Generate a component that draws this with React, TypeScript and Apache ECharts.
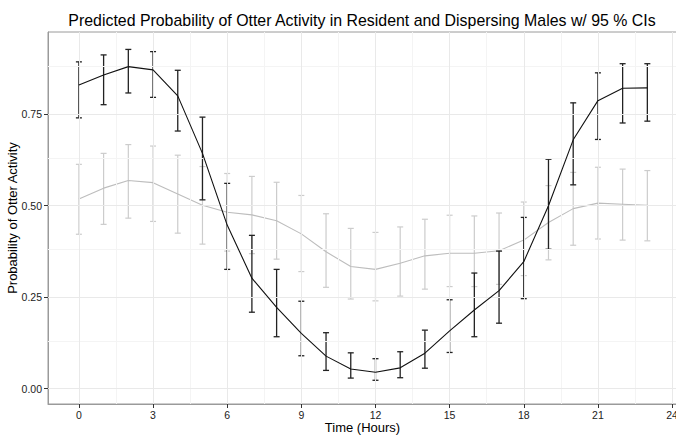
import React, { useEffect, useRef } from "react";
import * as echarts from "echarts";

const hours = [0, 1, 2, 3, 4, 5, 6, 7, 8, 9, 10, 11, 12, 13, 14, 15, 16, 17, 18, 19, 20, 21, 22, 23];

const residentFit = [0.830, 0.857, 0.880, 0.871, 0.800, 0.643, 0.447, 0.302, 0.222, 0.151, 0.089, 0.054, 0.045, 0.057, 0.097, 0.158, 0.215, 0.268, 0.347, 0.500, 0.680, 0.787, 0.821, 0.822];
const residentLow = [0.740, 0.776, 0.808, 0.796, 0.704, 0.516, 0.326, 0.209, 0.142, 0.090, 0.050, 0.029, 0.023, 0.030, 0.056, 0.099, 0.142, 0.179, 0.246, 0.381, 0.557, 0.681, 0.726, 0.731];
const residentHigh = [0.893, 0.912, 0.927, 0.921, 0.870, 0.742, 0.561, 0.419, 0.326, 0.239, 0.153, 0.098, 0.082, 0.101, 0.160, 0.243, 0.316, 0.376, 0.468, 0.627, 0.781, 0.863, 0.888, 0.888];

const dispersingFit = [0.518, 0.548, 0.569, 0.563, 0.532, 0.501, 0.482, 0.475, 0.459, 0.423, 0.374, 0.334, 0.326, 0.343, 0.363, 0.370, 0.370, 0.377, 0.406, 0.454, 0.492, 0.507, 0.504, 0.501];
const dispersingLow = [0.422, 0.449, 0.466, 0.457, 0.425, 0.395, 0.376, 0.369, 0.354, 0.320, 0.277, 0.245, 0.240, 0.253, 0.272, 0.279, 0.279, 0.285, 0.309, 0.352, 0.392, 0.409, 0.406, 0.404];
const dispersingHigh = [0.613, 0.643, 0.667, 0.663, 0.638, 0.607, 0.588, 0.580, 0.564, 0.528, 0.478, 0.438, 0.427, 0.442, 0.463, 0.474, 0.472, 0.480, 0.510, 0.555, 0.591, 0.605, 0.600, 0.596];

const xTicks = [0, 3, 6, 9, 12, 15, 18, 21, 24];
const xMinor = [1.5, 4.5, 7.5, 10.5, 13.5, 16.5, 19.5, 22.5];
const yTicks = [0, 0.25, 0.5, 0.75];
const yMinor = [0.125, 0.375, 0.625, 0.875];

const TITLE = "Predicted Probability of Otter Activity in Resident and Dispersing Males w/ 95 % CIs";

function errorBarSeries(name: string, low: number[], high: number[], color: string, width: number, z: number) {
  return {
    name,
    type: "custom",
    z,
    data: hours.map((h, i) => [h, low[i], high[i]]),
    encode: { x: 0, y: [1, 2] },
    renderItem: (params: any, api: any) => {
      const x = api.value(0);
      const pLo = api.coord([x, api.value(1)]);
      const pHi = api.coord([x, api.value(2)]);
      const w = 3;
      const style = { stroke: color, lineWidth: width, fill: null };
      return {
        type: "group",
        children: [
          { type: "line", shape: { x1: pHi[0], y1: pHi[1], x2: pLo[0], y2: pLo[1] }, style },
          { type: "line", shape: { x1: pHi[0] - w, y1: pHi[1], x2: pHi[0] + w, y2: pHi[1] }, style },
          { type: "line", shape: { x1: pLo[0] - w, y1: pLo[1], x2: pLo[0] + w, y2: pLo[1] }, style },
        ],
      };
    },
  };
}

export default function App() {
  const ref = useRef<HTMLDivElement>(null);
  useEffect(() => {
    if (!ref.current) return;
    const chart = echarts.init(ref.current, null, { renderer: "svg" });
    const font = "'Liberation Sans', Arial, sans-serif";
    const gridLine = (color: string, items: any[]) => ({
      silent: true,
      symbol: ["none", "none"],
      label: { show: false },
      lineStyle: { color, width: 1, type: "solid" },
      emphasis: { disabled: true },
      data: items,
    });
    chart.setOption({
      animation: false,
      backgroundColor: "#ffffff",
      textStyle: { fontFamily: font },
      title: {
        text: TITLE,
        left: 362,
        textAlign: "center",
        top: 12,
        padding: 0,
        textStyle: { fontSize: 15.9, fontWeight: "normal", color: "#000", fontFamily: font },
      },
      grid: {
        left: 48,
        top: 32,
        right: -1,
        bottom: 33,
        show: true,
        borderColor: "#9a9a9a",
        borderWidth: 1,
        containLabel: false,
        outerBoundsMode: "none",
      },
      xAxis: {
        type: "value",
        min: -1.25,
        max: 24.2,
        name: "Time (Hours)",
        nameLocation: "middle",
        nameGap: 17,
        nameMoveOverlap: false,
        nameTextStyle: { fontSize: 13, color: "#000", fontFamily: font },
        axisLine: { show: true, onZero: false, lineStyle: { color: "#9a9a9a", width: 1 } },
        axisTick: { show: true, length: 4, customValues: xTicks, lineStyle: { color: "#333" } },
        axisLabel: { customValues: xTicks, fontSize: 10.5, color: "#222", margin: 5, fontFamily: font, showMinLabel: true, showMaxLabel: true },
        splitLine: { show: false },
      },
      yAxis: {
        type: "value",
        min: -0.0418,
        max: 0.9746,
        name: "Probability of Otter Activity",
        nameLocation: "middle",
        nameRotate: 90,
        nameGap: 29.5,
        nameMoveOverlap: false,
        nameTextStyle: { fontSize: 13, color: "#000", fontFamily: font },
        axisLine: { show: true, onZero: false, lineStyle: { color: "#9a9a9a", width: 1 } },
        axisTick: { show: true, length: 4, customValues: yTicks, lineStyle: { color: "#333" } },
        axisLabel: {
          customValues: yTicks,
          fontSize: 10.5,
          color: "#222",
          margin: 6,
          fontFamily: font,
          formatter: (v: number) => v.toFixed(2),
        },
        splitLine: { show: false },
      },
      series: [
        {
          name: "minorGrid",
          type: "line",
          data: [],
          z: 0,
          silent: true,
          markLine: gridLine("#f4f4f4", [
            ...xMinor.map((v) => ({ xAxis: v })),
            ...yMinor.map((v) => ({ yAxis: v })),
          ]),
        },
        {
          name: "majorGrid",
          type: "line",
          data: [],
          z: 1,
          silent: true,
          markLine: gridLine("#e9e9e9", [
            ...xTicks.map((v) => ({ xAxis: v })),
            ...yTicks.map((v) => ({ yAxis: v })),
          ]),
        },
        errorBarSeries("dispersingCI", dispersingLow, dispersingHigh, "#cccccc", 1.2, 2),
        {
          name: "dispersing",
          type: "line",
          z: 3,
          data: hours.map((h, i) => [h, dispersingFit[i]]),
          showSymbol: false,
          symbol: "none",
          lineStyle: { color: "#bdbdbd", width: 1.1 },
        },
        errorBarSeries("residentCI", residentLow, residentHigh, "#222222", 1.3, 4),
        {
          name: "resident",
          type: "line",
          z: 5,
          data: hours.map((h, i) => [h, residentFit[i]]),
          showSymbol: false,
          symbol: "none",
          lineStyle: { color: "#111111", width: 1.1 },
        },
      ],
    });
    return () => chart.dispose();
  }, []);
  return <div ref={ref} style={{ position: "fixed", left: 0, top: 0, width: 676, height: 437 }} />;
}
